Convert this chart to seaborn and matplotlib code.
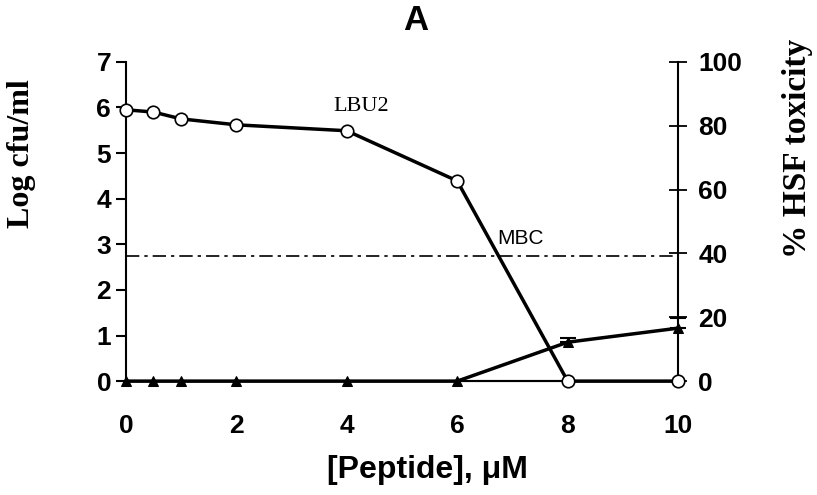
import matplotlib
matplotlib.use("Agg")
import matplotlib.pyplot as plt
import seaborn as sns
import pandas as pd

peptide_um = [0, 0.5, 1, 2, 4, 6, 8, 10]
log_cfu = [5.95, 5.90, 5.75, 5.62, 5.49, 4.39, 0.0, 0.0]
hsf_toxicity = [0, 0, 0, 0, 0, 0, 12.2, 16.6]
hsf_err = [0, 0, 0, 0, 0, 0, 1.2, 3.3]
mbc_level = 2.74

sns.set_theme(style="white")
plt.rcParams['font.family'] = ['Liberation Sans', 'DejaVu Sans']
plt.rcParams['text.color'] = 'black'
plt.rcParams['xtick.color'] = 'black'
plt.rcParams['ytick.color'] = 'black'
plt.rcParams['axes.labelcolor'] = 'black'
SERIF = ["Liberation Serif", "DejaVu Serif"]

df = pd.DataFrame({"x": peptide_um, "cfu": log_cfu, "tox": hsf_toxicity, "err": hsf_err})

fig = plt.figure(figsize=(8.17, 4.95), dpi=100)
ax = fig.add_axes([0.154, 0.230, 0.676, 0.645])
ax2 = ax.twinx()

sns.lineplot(data=df, x="x", y="cfu", ax=ax, color="black", linewidth=2.5,
             marker="o", markersize=9, markerfacecolor="white",
             markeredgecolor="black", markeredgewidth=1.2, zorder=5)
sns.lineplot(data=df, x="x", y="tox", ax=ax2, color="black", linewidth=2.5,
             marker="^", markersize=7, markerfacecolor="black",
             markeredgecolor="black", zorder=4)
ax2.errorbar(df["x"][6:], df["tox"][6:], yerr=[[0, 0], df["err"][6:]],
             fmt="none", ecolor="black", elinewidth=1.2, capsize=6, capthick=1.5)

ax.axhline(mbc_level, color="black", linewidth=1.2, linestyle=(0, (8, 3, 2, 3)))

ax.set_xlim(0, 10)
ax.set_ylim(0, 7)
ax2.set_ylim(0, 100)
ax.set_xticks([0, 2, 4, 6, 8, 10])
ax.set_yticks(range(0, 8))
ax2.set_yticks(range(0, 101, 20))

for a in (ax, ax2):
    for s in a.spines.values():
        s.set_visible(False)
    a.spines["bottom"].set_visible(True)
ax.spines["left"].set_visible(True)
ax2.spines["right"].set_visible(True)
for a in (ax, ax2):
    for s in a.spines.values():
        s.set_linewidth(1.5)
        s.set_color("black")

ax.tick_params(axis="y", direction="out", length=7, width=1.5, labelsize=19, pad=3.5)
ax.tick_params(axis="x", direction="inout", length=10, width=1.5, labelsize=19, pad=19)
ax2.tick_params(axis="y", direction="inout", length=13, width=1.3, labelsize=19, pad=8)
for lab in ax.get_xticklabels() + ax.get_yticklabels() + ax2.get_yticklabels():
    lab.set_fontweight("bold")

ax.set_xlabel("[Peptide], μM", fontsize=23, fontweight="bold", va="center")
ax.xaxis.set_label_coords(0.547, -0.279)
ax.set_ylabel("Log cfu/ml", fontsize=23, fontweight="bold", family=SERIF, va="center")
ax.yaxis.set_label_coords(-0.188, 0.712)
ax2.set_ylabel("% HSF toxicity", fontsize=24, fontweight="bold", family=SERIF, va="center")
ax2.yaxis.set_label_coords(1.216, 0.730)

ax.text(3.76, 5.93, "LBU2", fontsize=16, family=SERIF)
ax.text(6.72, 3.0, "MBC", fontsize=15)
fig.text(0.509, 0.9586, "A", fontsize=25, fontweight="bold", ha="center", va="center")

ax.set_zorder(ax2.get_zorder() + 1)
ax.patch.set_visible(False)
for l in ax.lines + ax2.lines:
    l.set_clip_on(False)

fig.savefig("out.png", dpi=100)
